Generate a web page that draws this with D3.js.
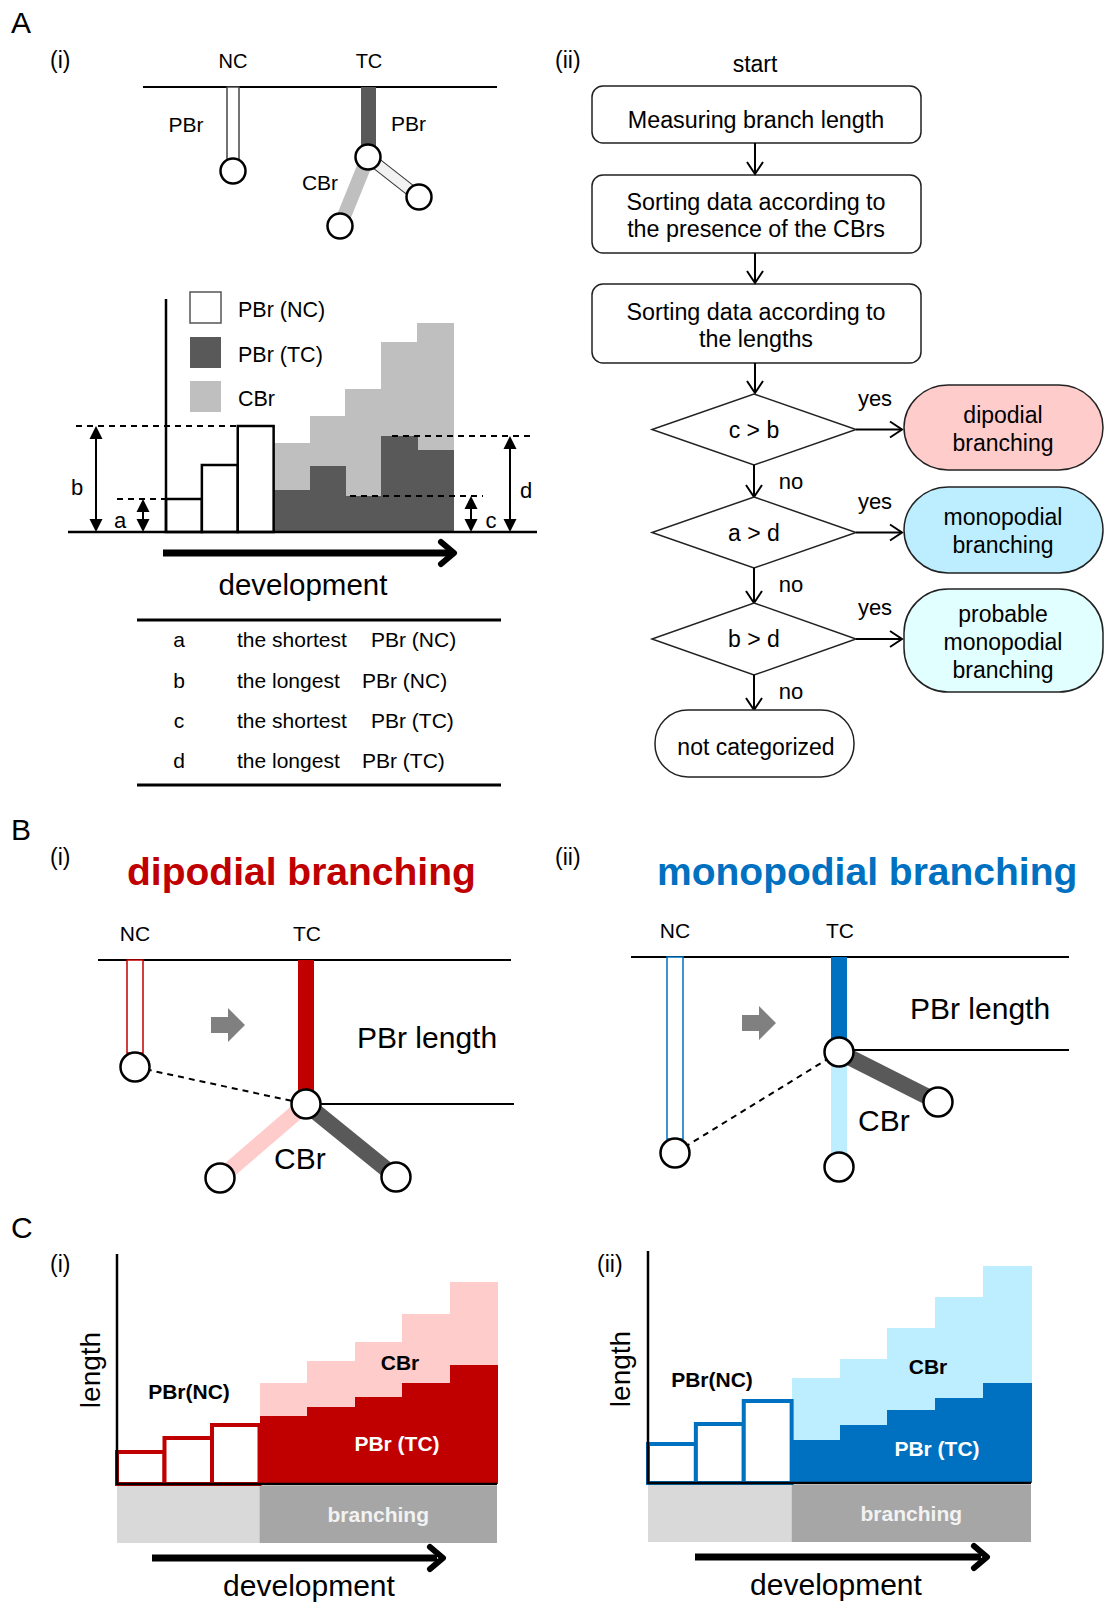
<!DOCTYPE html>
<html>
<head>
<meta charset="utf-8">
<script src="https://cdn.jsdelivr.net/npm/d3@7"></script>
<style>
  body { margin: 0; background: #fff; }
  svg text { font-family: "Liberation Sans", Arial, sans-serif; fill: #000; }
</style>
</head>
<body>
<div id="fig"></div>
<script>
// ---- data (lengths, schematic units above the baseline) ----
// A(i) example plant
var aNC  = [33, 67, 106];            // PBr (NC)
var aTC  = [42, 66, 36, 96, 82];     // PBr (TC)
var aCBr = [47, 50, 107, 94, 127];   // CBr, stacked on PBr (TC)
// C(i) dipodial branching
var dNC  = [32, 46, 59];
var dTC  = [68, 77, 87, 101, 119];
var dCBr = [33, 46, 55, 69, 83];
// C(ii) monopodial branching
var mNC  = [39, 59, 82];
var mTC  = [43, 58, 73, 85, 100];
var mCBr = [62, 66, 82, 101, 117];

// A(i) legend + table
var legendLabels = ["PBr (NC)", "PBr (TC)", "CBr"];
var tableKeys   = ["a", "b", "c", "d"];
var tableWhat   = ["the shortest", "the longest", "the shortest", "the longest"];
var tableBranch = ["PBr (NC)", "PBr (NC)", "PBr (TC)", "PBr (TC)"];

// A(ii) flowchart
var stepTexts  = [["Measuring branch length"],
                  ["Sorting data according to", "the presence of the CBrs"],
                  ["Sorting data according to", "the lengths"]];
var conditions = ["c > b", "a > d", "b > d"];
var outcomes   = [["dipodial", "branching"], ["monopodial", "branching"],
                  ["probable", "monopodial", "branching"]];
var outcomeColors = ["#ffcccc", "#bdeeff", "#e1ffff"];

var W = 1113, H = 1602;
var svg = d3.select("#fig").append("svg")
    .attr("width", W)
    .attr("height", H);

function txt(g, x, y, s, size, opts) {
  opts = opts || {};
  return g.append("text")
      .attr("x", x).attr("y", y)
      .attr("font-size", size)
      .attr("text-anchor", opts.anchor || "start")
      .attr("font-weight", opts.bold ? "bold" : "normal")
      .style("fill", opts.fill || "#000")
      .text(s);
}

function line(g, x1, y1, x2, y2, w, col, dash) {
  var l = g.append("line")
      .attr("x1", x1).attr("y1", y1).attr("x2", x2).attr("y2", y2)
      .attr("stroke", col || "#000")
      .attr("stroke-width", w || 2);
  if (dash) l.attr("stroke-dasharray", dash);
  return l;
}

function node(g, x, y, r) {
  g.append("circle").attr("cx", x).attr("cy", y).attr("r", r)
      .attr("fill", "#fff").attr("stroke", "#000").attr("stroke-width", 2.5);
}

// stepped bar chart: NC bars (outlined) then TC bars with CBr stacked
function stepChart(g, o) {
  var n = o.nc.length + o.tc.length;
  var x = d3.scaleBand().domain(d3.range(n)).range([o.x0, o.x1]).padding(0);
  var y = d3.scaleLinear().domain([0, 100]).range([o.base, o.base - 100]);
  var k = o.nc.length;

  g.selectAll(".cbr").data(o.tc).enter().append("rect")
      .attr("x", function(d, i) { return x(i + k); })
      .attr("width", x.bandwidth() + 0.5)
      .attr("y", function(d, i) { return y(d + o.cbr[i]); })
      .attr("height", function(d, i) { return y(d) - y(d + o.cbr[i]) + 0.5; })
      .attr("fill", o.cbrColor)
      .attr("shape-rendering", "crispEdges");

  g.selectAll(".tc").data(o.tc).enter().append("rect")
      .attr("x", function(d, i) { return x(i + k); })
      .attr("width", x.bandwidth() + 0.5)
      .attr("y", function(d) { return y(d); })
      .attr("height", function(d) { return o.base - y(d); })
      .attr("fill", o.tcColor)
      .attr("shape-rendering", "crispEdges");

  g.selectAll(".nc").data(o.nc).enter().append("rect")
      .attr("x", function(d, i) { return x(i); })
      .attr("width", x.bandwidth())
      .attr("y", function(d) { return y(d); })
      .attr("height", function(d) { return o.base - y(d); })
      .attr("fill", "#fff")
      .attr("stroke", o.ncStroke)
      .attr("stroke-width", o.ncWidth);

  return {x: x, y: y, k: k};
}

// ================= A =================
var A = svg.append("g");
txt(A, 11, 33, "A", 30);
txt(A, 50, 68, "(i)", 23);

// A(i) schematic
line(A, 143, 87, 497, 87, 2);
txt(A, 233, 68, "NC", 20, {anchor: "middle"});
txt(A, 369, 68, "TC", 20, {anchor: "middle"});
A.append("rect").attr("x", 227).attr("y", 87).attr("width", 12).attr("height", 73)
    .attr("fill", "#fff").attr("stroke", "#444").attr("stroke-width", 1.5);
node(A, 233, 171, 12.5);
txt(A, 186, 132, "PBr", 21, {anchor: "middle"});
A.append("rect").attr("x", 361).attr("y", 87).attr("width", 15).attr("height", 70).attr("fill", "#595959");
line(A, 368, 157, 340, 226, 14, "#bfbfbf");
line(A, 368, 157, 419, 197, 12, "#333");
line(A, 368, 157, 419, 197, 10, "#f2f2f2");
node(A, 368, 157, 12.5);
node(A, 340, 226, 12.5);
node(A, 419, 197, 12.5);
txt(A, 391, 131, "PBr", 21);
txt(A, 320, 190, "CBr", 21, {anchor: "middle"});

// A(i) bar chart
var aBase = 532;
var ac = stepChart(A, {x0: 166, x1: 453, base: aBase, nc: aNC, tc: aTC, cbr: aCBr,
  ncStroke: "#000", ncWidth: 2.5, tcColor: "#595959", cbrColor: "#bfbfbf"});
line(A, 166, 299, 166, aBase, 2.5);
line(A, 68, aBase, 537, aBase, 2.5);

// legend
var legFill = ["#fff", "#595959", "#bfbfbf"];
var legY = [292, 337, 381];
legendLabels.forEach(function(s, i) {
  A.append("rect").attr("x", 190).attr("y", legY[i]).attr("width", 31).attr("height", 31)
      .attr("fill", legFill[i]).attr("stroke", i === 0 ? "#555" : "none").attr("stroke-width", 1.5);
  txt(A, 238, legY[i] + 25, s, 21.5);
});

// a, b, c, d markers
var aMin = ac.y(d3.min(aNC)), bMax = ac.y(d3.max(aNC));
var cMin = ac.y(d3.min(aTC)), dMax = ac.y(d3.max(aTC));
line(A, 76, bMax, 273, bMax, 2, "#000", "6,5");
line(A, 117, aMin, 166, aMin, 2, "#000", "6,5");
line(A, 392, dMax, 532, dMax, 2, "#000", "6,5");
line(A, 350, cMin, 483, cMin, 2, "#000", "6,5");

function dblArrow(g, x, y1, y2) {
  line(g, x, y1 + 8, x, y2 - 8, 2);
  g.append("path").attr("d", "M" + (x - 6.5) + "," + (y1 + 13) + "L" + x + "," + y1 + "L" + (x + 6.5) + "," + (y1 + 13) + "Z").attr("fill", "#000");
  g.append("path").attr("d", "M" + (x - 6.5) + "," + (y2 - 13) + "L" + x + "," + y2 + "L" + (x + 6.5) + "," + (y2 - 13) + "Z").attr("fill", "#000");
}
dblArrow(A, 96, bMax, aBase);
dblArrow(A, 143, aMin, aBase);
dblArrow(A, 471, cMin, aBase);
dblArrow(A, 510, dMax, aBase);
txt(A, 77, 495, "b", 22, {anchor: "middle"});
txt(A, 120, 528, "a", 22, {anchor: "middle"});
txt(A, 491, 528, "c", 22, {anchor: "middle"});
txt(A, 526, 498, "d", 22, {anchor: "middle"});

// development arrow
line(A, 163, 553, 450, 553, 7);
A.append("path").attr("d", "M441,542 L454,553 L441,564").attr("fill", "none")
    .attr("stroke", "#000").attr("stroke-width", 6).attr("stroke-linecap", "round").attr("stroke-linejoin", "round");
txt(A, 303, 595, "development", 29.5, {anchor: "middle"});

// table
line(A, 137, 620, 501, 620, 3);
line(A, 137, 785, 501, 785, 3);
var rowY = [647, 688, 728, 768];
var brX = [371, 362, 371, 362];
tableKeys.forEach(function(k, i) {
  txt(A, 179, rowY[i], k, 21, {anchor: "middle"});
  txt(A, 237, rowY[i], tableWhat[i], 21);
  txt(A, brX[i], rowY[i], tableBranch[i], 21);
});

// ================= A(ii) flowchart =================
var F = svg.append("g").attr("fill", "none");
txt(F, 555, 68, "(ii)", 23);
txt(F, 755, 72, "start", 23, {anchor: "middle"});

function vArrow(g, x, y1, y2) {
  line(g, x, y1, x, y2, 2);
  g.append("path").attr("d", "M" + (x - 8) + "," + (y2 - 12) + "L" + x + "," + y2 + "L" + (x + 8) + "," + (y2 - 12))
      .attr("fill", "none").attr("stroke", "#000").attr("stroke-width", 2);
}
function hArrow(g, x1, x2, y) {
  line(g, x1, y, x2, y, 2);
  g.append("path").attr("d", "M" + (x2 - 12) + "," + (y - 8) + "L" + x2 + "," + y + "L" + (x2 - 12) + "," + (y + 8))
      .attr("fill", "none").attr("stroke", "#000").attr("stroke-width", 2);
}
function multiText(g, cx, cy, lines, size, gap) {
  var top = cy - (lines.length - 1) * gap / 2;
  lines.forEach(function(s, i) {
    txt(g, cx, top + i * gap + size * 0.35, s, size, {anchor: "middle"});
  });
}

var stepBox = [[86, 143], [175, 253], [284, 363]];
var stepShift = [5, 1, 2];
stepTexts.forEach(function(lines, i) {
  var b = stepBox[i];
  F.append("rect").attr("x", 592).attr("y", b[0]).attr("width", 329).attr("height", b[1] - b[0])
      .attr("rx", 11).attr("fill", "#fff").attr("stroke", "#222").attr("stroke-width", 1.5);
  multiText(F, 756, (b[0] + b[1]) / 2 + stepShift[i], lines, 23.3, 27);
});
vArrow(F, 755, 143, 174);
vArrow(F, 755, 253, 283);
vArrow(F, 755, 363, 393);

var dia = [[394, 465], [497, 568], [603, 675]];
var outBox = [[385, 470], [487, 573], [589, 692]];
dia.forEach(function(d, i) {
  var cy = (d[0] + d[1]) / 2;
  F.append("path").attr("d", "M754," + d[0] + "L856," + cy + "L754," + d[1] + "L652," + cy + "Z")
      .attr("fill", "#fff").attr("stroke", "#222").attr("stroke-width", 1.5);
  txt(F, 754, cy + 8, conditions[i], 23, {anchor: "middle"});
  hArrow(F, 856, 902, cy);
  txt(F, 875, cy - 24, "yes", 22, {anchor: "middle"});
  var ob = outBox[i];
  F.append("rect").attr("x", 904).attr("y", ob[0]).attr("width", 199).attr("height", ob[1] - ob[0])
      .attr("rx", 44).attr("fill", outcomeColors[i]).attr("stroke", "#222").attr("stroke-width", 1.5);
  multiText(F, 1003, (ob[0] + ob[1]) / 2 + 1, outcomes[i], 23, 28);
  var next = i < 2 ? dia[i + 1][0] : 710;
  vArrow(F, 754, d[1], next);
  txt(F, 791, d[1] + 24, "no", 22, {anchor: "middle"});
});
F.append("rect").attr("x", 655).attr("y", 710).attr("width", 199).attr("height", 67)
    .attr("rx", 33).attr("fill", "#fff").attr("stroke", "#222").attr("stroke-width", 1.5);
txt(F, 756, 755, "not categorized", 23, {anchor: "middle"});

// ================= B =================
var B = svg.append("g");
txt(B, 11, 840, "B", 30);
txt(B, 50, 865, "(i)", 23);
txt(B, 555, 865, "(ii)", 23);
txt(B, 127, 885, "dipodial branching", 39, {bold: true, fill: "#c00000"});
txt(B, 657, 885, "monopodial branching", 39, {bold: true, fill: "#0070c0"});

function blockArrow(g, x0, cy) {
  g.append("path").attr("d",
      "M" + x0 + "," + (cy - 8) + "L" + (x0 + 17) + "," + (cy - 8) + "L" + (x0 + 17) + "," + (cy - 17) +
      "L" + (x0 + 34) + "," + cy + "L" + (x0 + 17) + "," + (cy + 17) + "L" + (x0 + 17) + "," + (cy + 8) +
      "L" + x0 + "," + (cy + 8) + "Z").attr("fill", "#808080");
}

// B(i)
txt(B, 135, 941, "NC", 21, {anchor: "middle"});
txt(B, 307, 941, "TC", 21, {anchor: "middle"});
line(B, 98, 960, 511, 960, 2);
B.append("rect").attr("x", 127).attr("y", 960).attr("width", 16).attr("height", 93)
    .attr("fill", "#fff").attr("stroke", "#c00000").attr("stroke-width", 1.5);
B.append("rect").attr("x", 298).attr("y", 960).attr("width", 16).attr("height", 144).attr("fill", "#c00000");
line(B, 306, 1104, 514, 1104, 2);
line(B, 135, 1067, 306, 1104, 2, "#000", "6,5");
line(B, 306, 1104, 220, 1178, 16, "#ffcccc");
line(B, 306, 1104, 396, 1177, 16, "#595959");
node(B, 135, 1067, 14.5);
node(B, 306, 1104, 14.5);
node(B, 220, 1178, 14.5);
node(B, 396, 1177, 14.5);
blockArrow(B, 211, 1025);
txt(B, 357, 1048, "PBr length", 30);
txt(B, 274, 1169, "CBr", 30);

// B(ii)
txt(B, 675, 938, "NC", 21, {anchor: "middle"});
txt(B, 840, 938, "TC", 21, {anchor: "middle"});
line(B, 631, 957, 1069, 957, 2);
B.append("rect").attr("x", 667).attr("y", 957).attr("width", 16).attr("height", 182)
    .attr("fill", "#fff").attr("stroke", "#0070c0").attr("stroke-width", 1.5);
B.append("rect").attr("x", 831).attr("y", 957).attr("width", 16).attr("height", 95).attr("fill", "#0070c0");
B.append("rect").attr("x", 831).attr("y", 1052).attr("width", 16).attr("height", 115).attr("fill", "#bdeeff");
line(B, 839, 1050, 1069, 1050, 2);
line(B, 675, 1153, 839, 1052, 2, "#000", "6,5");
line(B, 839, 1052, 938, 1102, 16, "#595959");
node(B, 675, 1153, 14.5);
node(B, 839, 1052, 14.5);
node(B, 839, 1167, 14.5);
node(B, 938, 1102, 14.5);
blockArrow(B, 742, 1023);
txt(B, 910, 1019, "PBr length", 30);
txt(B, 858, 1131, "CBr", 30);

// ================= C =================
var C = svg.append("g");
txt(C, 11, 1238, "C", 30);

function panelC(o) {
  var g = C.append("g");
  var c = stepChart(g, o);
  var xe = c.x(c.k);
  g.append("rect").attr("x", o.x0).attr("y", o.base + 2).attr("width", xe - o.x0).attr("height", 57).attr("fill", "#d9d9d9");
  g.append("rect").attr("x", xe).attr("y", o.base + 2).attr("width", o.x1 - xe).attr("height", 57).attr("fill", "#a6a6a6");
  line(g, o.x0, o.top, o.x0, o.base + 1, 2.5);
  line(g, o.x0, o.base, o.x1, o.base, 2.5);
  txt(g, (xe + o.x1) / 2, o.base + 38, "branching", 21, {anchor: "middle", bold: true, fill: "#f2f2f2"});
  txt(g, o.tcLab[0], o.tcLab[1], "PBr (TC)", 21, {anchor: "middle", bold: true, fill: "#fff"});
  txt(g, o.cbrLab[0], o.cbrLab[1], "CBr", 21, {anchor: "middle", bold: true});
  txt(g, o.ncLab[0], o.ncLab[1], "PBr(NC)", 21, {anchor: "middle", bold: true});
  g.append("text").attr("transform", "translate(" + o.lenX + "," + (o.base - 114) + ") rotate(-90)")
      .attr("text-anchor", "middle").attr("font-size", 28).text("length");
  line(g, o.arr[0], o.base + 74, o.arr[1] - 6, o.base + 74, 7);
  g.append("path").attr("d", "M" + (o.arr[1] - 13) + "," + (o.base + 63) + "L" + o.arr[1] + "," + (o.base + 74) + "L" + (o.arr[1] - 13) + "," + (o.base + 85))
      .attr("fill", "none").attr("stroke", "#000").attr("stroke-width", 6)
      .attr("stroke-linecap", "round").attr("stroke-linejoin", "round");
  txt(g, o.devX, o.base + 112, "development", 30, {anchor: "middle"});
  txt(g, o.lab[0], o.lab[1], o.lab[2], 23);
}

panelC({x0: 117, x1: 497, base: 1484, top: 1254, nc: dNC, tc: dTC, cbr: dCBr,
  ncStroke: "#c00000", ncWidth: 4, tcColor: "#c00000", cbrColor: "#ffcccc",
  tcLab: [397, 1451], cbrLab: [400, 1370], ncLab: [189, 1399], lenX: 100,
  arr: [152, 443], devX: 309, lab: [50, 1272, "(i)"]});
panelC({x0: 648, x1: 1031, base: 1483, top: 1251, nc: mNC, tc: mTC, cbr: mCBr,
  ncStroke: "#0070c0", ncWidth: 4, tcColor: "#0070c0", cbrColor: "#bdeeff",
  tcLab: [937, 1456], cbrLab: [928, 1374], ncLab: [712, 1387], lenX: 630,
  arr: [695, 987], devX: 836, lab: [597, 1272, "(ii)"]});
</script>
</body>
</html>
